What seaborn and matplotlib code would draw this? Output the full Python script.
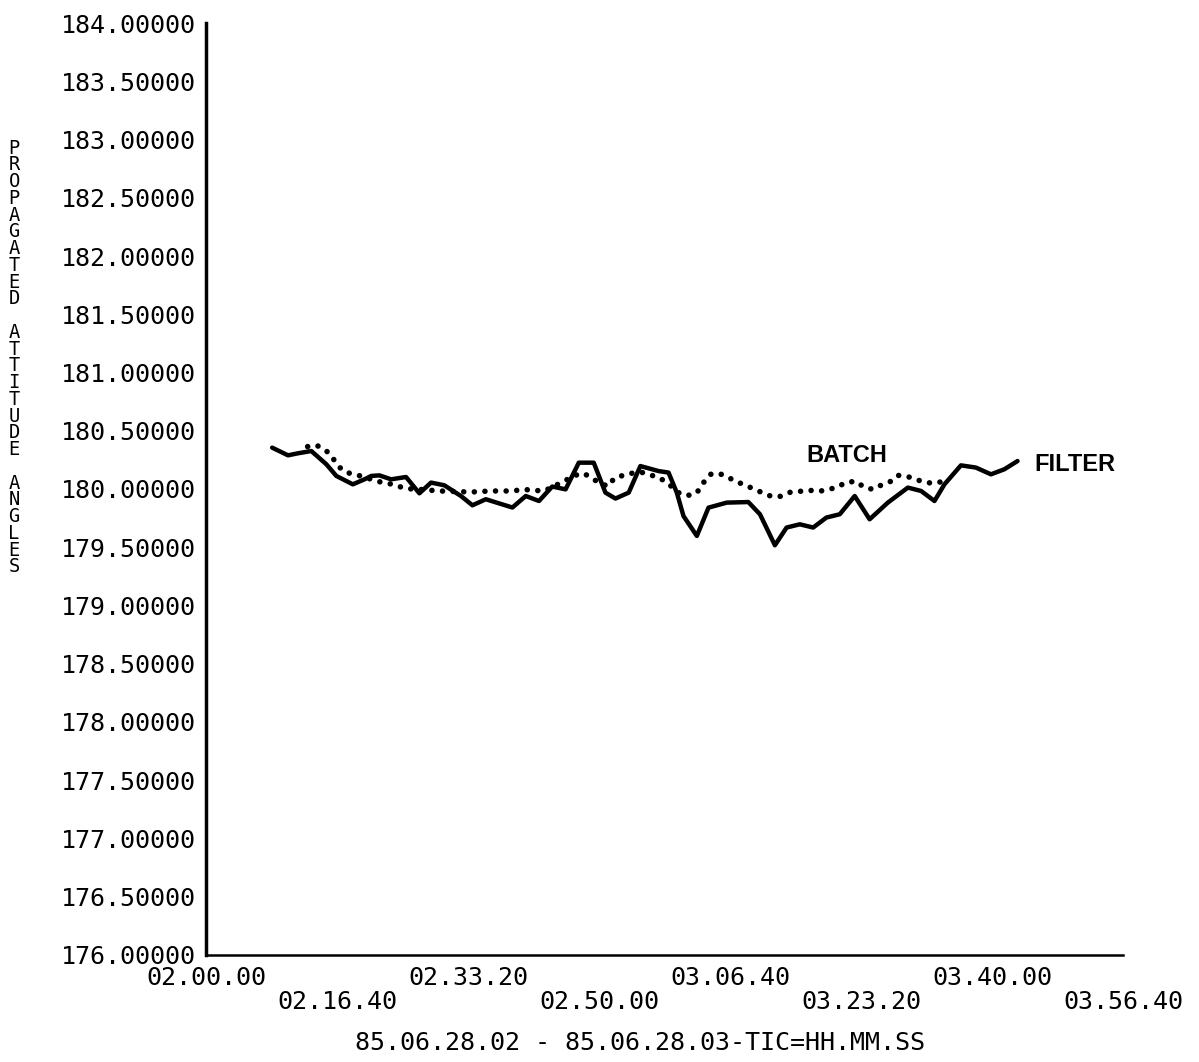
import matplotlib
matplotlib.use("Agg")
import matplotlib.pyplot as plt
import seaborn as sns
import pandas as pd

# ---- data (seconds after 02.00.00, propagated attitude angle) ----
filter_t = [505, 626, 700, 804, 919, 995, 1121, 1210, 1261, 1324, 1413, 1527, 1629, 1718,
            1819, 1946, 2034, 2136, 2339, 2441, 2542, 2643, 2745, 2846, 2960, 3049, 3126,
            3227, 3316, 3455, 3531, 3594, 3645, 3747, 3836, 3975, 4140, 4229, 4343, 4432,
            4533, 4635, 4736, 4838, 4952, 5066, 5205, 5358, 5459, 5561, 5637, 5763, 5877,
            5992, 6094, 6195]
filter_v = [180.355, 180.289, 180.306, 180.326, 180.212, 180.112, 180.040, 180.083, 180.112,
            180.117, 180.083, 180.103, 179.963, 180.055, 180.032, 179.940, 179.860, 179.912,
            179.841, 179.940, 179.897, 180.021, 179.997, 180.226, 180.226, 179.969, 179.918,
            179.969, 180.197, 180.154, 180.141, 179.969, 179.768, 179.597, 179.840, 179.883,
            179.888, 179.783, 179.517, 179.669, 179.697, 179.669, 179.755, 179.783, 179.940,
            179.740, 179.883, 180.012, 179.983, 179.897, 180.040, 180.203, 180.184, 180.126,
            180.169, 180.240]

batch_t = [776, 845, 898, 944, 1005, 1050, 1104, 1164, 1263, 1332, 1400, 1461, 1530, 1629,
           1781, 2024, 2177, 2344, 2420, 2496, 2580, 2641, 2732, 2816, 2884, 2945, 2998,
           3067, 3105, 3143, 3204, 3250, 3326, 3402, 3455, 3516, 3623, 3683, 3744, 3775,
           3805, 3851, 3912, 3973, 4041, 4102, 4170, 4239, 4315, 4384, 4460, 4536, 4604,
           4680, 4756, 4817, 4886, 4962, 5023, 5091, 5152, 5228, 5282, 5350, 5419, 5487,
           5556, 5632]
batch_v = [180.364, 180.375, 180.341, 180.306, 180.203, 180.154, 180.132, 180.117, 180.083,
           180.060, 180.046, 180.026, 180.003, 179.997, 179.983, 179.974, 179.983, 179.983,
           179.997, 179.989, 179.983, 180.015, 180.066, 180.117, 180.135, 180.092, 180.057,
           180.023, 180.075, 180.109, 180.117, 180.135, 180.143, 180.117, 180.100, 180.057,
           179.955, 179.946, 179.963, 180.015, 180.066, 180.126, 180.135, 180.109, 180.066,
           180.040, 180.006, 179.972, 179.937, 179.937, 179.972, 179.980, 179.989, 179.980,
           179.997, 180.015, 180.057, 180.066, 180.015, 179.997, 180.032, 180.066, 180.117,
           180.109, 180.083, 180.057, 180.049, 180.066]

x_tick_pos = [0, 1000, 2000, 3000, 4000, 5000, 6000, 7000]
x_tick_labels = ["02.00.00", "02.16.40", "02.33.20", "02.50.00",
                 "03.06.40", "03.23.20", "03.40.00", "03.56.40"]
y_ticks = [176.0, 176.5, 177.0, 177.5, 178.0, 178.5, 179.0, 179.5,
           180.0, 180.5, 181.0, 181.5, 182.0, 182.5, 183.0, 183.5, 184.0]
y_label_text = "PROPAGATED ATTITUDE ANGLES"
x_label_text = "85.06.28.02 - 85.06.28.03-TIC=HH.MM.SS"

sns.set_style("white")
plt.rcParams["font.family"] = ["DejaVu Sans Mono", "DejaVu Sans"]
plt.rcParams["text.color"] = "black"

fig = plt.figure(figsize=(11.99, 10.62), dpi=100)
ax = fig.add_axes([0.1718, 0.1008, 0.7648, 0.8775])

df_f = pd.DataFrame({"t": filter_t, "v": filter_v})
df_b = pd.DataFrame({"t": batch_t, "v": batch_v})

sns.lineplot(data=df_f, x="t", y="v", ax=ax, color="black", lw=3.2,
             solid_joinstyle="round", solid_capstyle="round")
sns.lineplot(data=df_b, x="t", y="v", ax=ax, color="black", lw=4.0,
             linestyle=(0, (0.01, 1.9)), dash_capstyle="round")

ax.set_xlim(0, 7000)
ax.set_ylim(176, 184)

ax.set_yticks(y_ticks)
ax.set_yticklabels([f"{v:.5f}" for v in y_ticks], fontsize=18)
ax.set_xticks(x_tick_pos)
ax.set_xticklabels([lab if i % 2 == 0 else "\n" + lab
                    for i, lab in enumerate(x_tick_labels)],
                   fontsize=18, linespacing=1.0)

for s in ["top", "right"]:
    ax.spines[s].set_visible(False)
ax.spines["left"].set_linewidth(2.5)
ax.spines["bottom"].set_linewidth(1.8)
ax.spines["left"].set_color("black")
ax.spines["bottom"].set_color("black")
ax.tick_params(axis="both", direction="out", length=5, width=1.5, color="black",
               labelcolor="black")
ax.tick_params(axis="y", pad=2)
ax.tick_params(axis="x", pad=3)
ax.set_xlabel("")
ax.set_ylabel("")

ax.text(4893, 180.29, "BATCH", fontsize=17, fontweight="bold", color="black",
        family=["Liberation Sans", "DejaVu Sans"], ha="center", va="center")
ax.text(6629, 180.21, "FILTER", fontsize=17, fontweight="bold", color="black",
        family=["Liberation Sans", "DejaVu Sans"], ha="center", va="center")

fig.text(640 / 1199, 1 - 1043 / 1062, x_label_text, fontsize=18, color="black",
         ha="center", va="center")

# vertical stacked y label
y0 = 148
step = (567 - 148) / (len(y_label_text) - 1)
for i, ch in enumerate(y_label_text):
    if ch != " ":
        fig.text(14 / 1199, 1 - (y0 + i * step) / 1062, ch, fontsize=13.5,
                 color="black", ha="center", va="center")

fig.savefig("out.png", dpi=100, facecolor="white")
